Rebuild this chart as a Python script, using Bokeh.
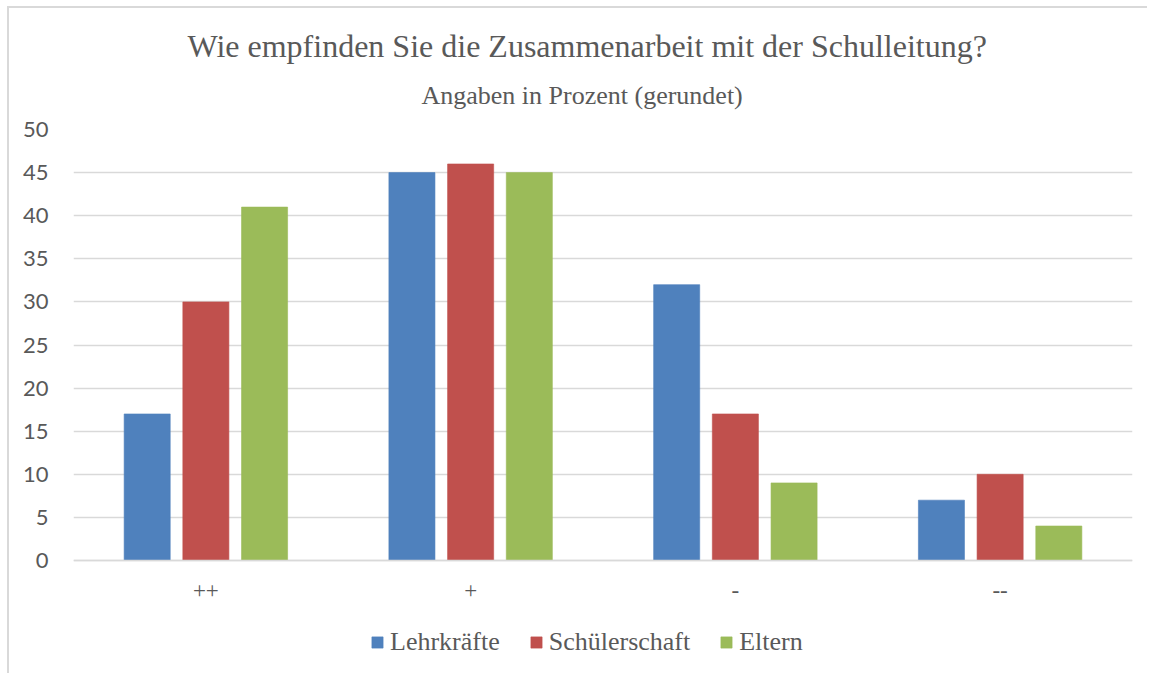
from bokeh.plotting import figure
from bokeh.models import FactorRange, Legend, LegendItem, Title
from bokeh.transform import dodge
from bokeh.models import ColumnDataSource
from bokeh.embed import file_html
from bokeh.resources import INLINE

categories = ["++", "+", "-", "--"]
series_names = ["Lehrkräfte", "Schülerschaft", "Eltern"]
lehrkraefte = [17, 45, 32, 7]
schuelerschaft = [30, 46, 17, 10]
eltern = [41, 45, 9, 4]
colors = ["#4F81BD", "#C0504D", "#9BBB59"]
y_ticks = [0, 5, 10, 15, 20, 25, 30, 35, 40, 45, 50]

source = ColumnDataSource(dict(cat=categories, l=lehrkraefte, s=schuelerschaft, e=eltern))

W, H = 1140, 667
p = figure(x_range=FactorRange(factors=categories, range_padding=0),
           y_range=(-12.76, 50), width=W, height=H, output_backend="svg",
           toolbar_location=None,
           min_border_left=64, min_border_right=17,
           min_border_top=121, min_border_bottom=5)

sub = Title(text="Angaben in Prozent (gerundet)", align="left", vertical_align="top",
            text_font="Liberation Serif", text_font_size="26px",
            text_font_style="normal", text_color="#595959", standoff=35, offset=348,
            text_line_height=1.0)
main = Title(text="Wie empfinden Sie die Zusammenarbeit mit der Schulleitung?", align="left",
             text_font="Liberation Serif", text_font_size="32px",
             text_font_style="normal", text_color="#595959", standoff=0, offset=114,
             text_line_height=0.85)
p.add_layout(sub, "above")
p.add_layout(main, "above")

step = 0.2217
bw = 0.174
cols = ["l", "s", "e"]
renderers = []
for i, (c, col) in enumerate(zip(cols, colors)):
    r = p.vbar(x=dodge("cat", (i - 1) * step, range=p.x_range), top=c, width=bw,
               source=source, fill_color=col, line_color=col, line_alpha=0.6, line_width=1)
    renderers.append(r)

legend = Legend(items=[LegendItem(label=n, renderers=[r]) for n, r in zip(series_names, renderers)],
                orientation="horizontal", location=(297, 13),
                label_text_font="Liberation Serif", label_text_font_size="26px",
                label_text_color="#595959", glyph_width=14, glyph_height=14,
                label_standoff=6, spacing=29, padding=0, margin=0,
                border_line_color=None, background_fill_alpha=0)
p.add_layout(legend, "center")

p.yaxis.ticker = y_ticks
p.yaxis.axis_line_color = None
p.yaxis.major_tick_line_color = None
p.yaxis.minor_tick_line_color = None
p.yaxis.major_label_text_font = "Lato"
p.yaxis.major_label_text_font_size = "22px"
p.yaxis.major_label_text_color = "#595959"
p.yaxis.major_label_standoff = 19

p.xaxis.fixed_location = 0
p.xaxis.axis_line_color = "#d9d9d9"
p.xaxis.axis_line_width = 1.5
p.xaxis.major_tick_line_color = None
p.xaxis.minor_tick_line_color = None
p.xaxis.major_label_text_font = "Liberation Serif"
p.xaxis.major_label_text_font_size = "23px"
p.xaxis.major_label_text_color = "#595959"
p.xaxis.major_label_standoff = 16

p.xgrid.grid_line_color = None
p.ygrid.grid_line_color = "#d9d9d9"
p.ygrid.grid_line_width = 1.5
p.outline_line_color = None
p.styles = {"margin-left": "7px", "margin-top": "6px",
            "border-top": "2px solid #d9d9d9", "border-left": "2px solid #d9d9d9"}

open("out.html", "w").write(file_html(p, INLINE))
